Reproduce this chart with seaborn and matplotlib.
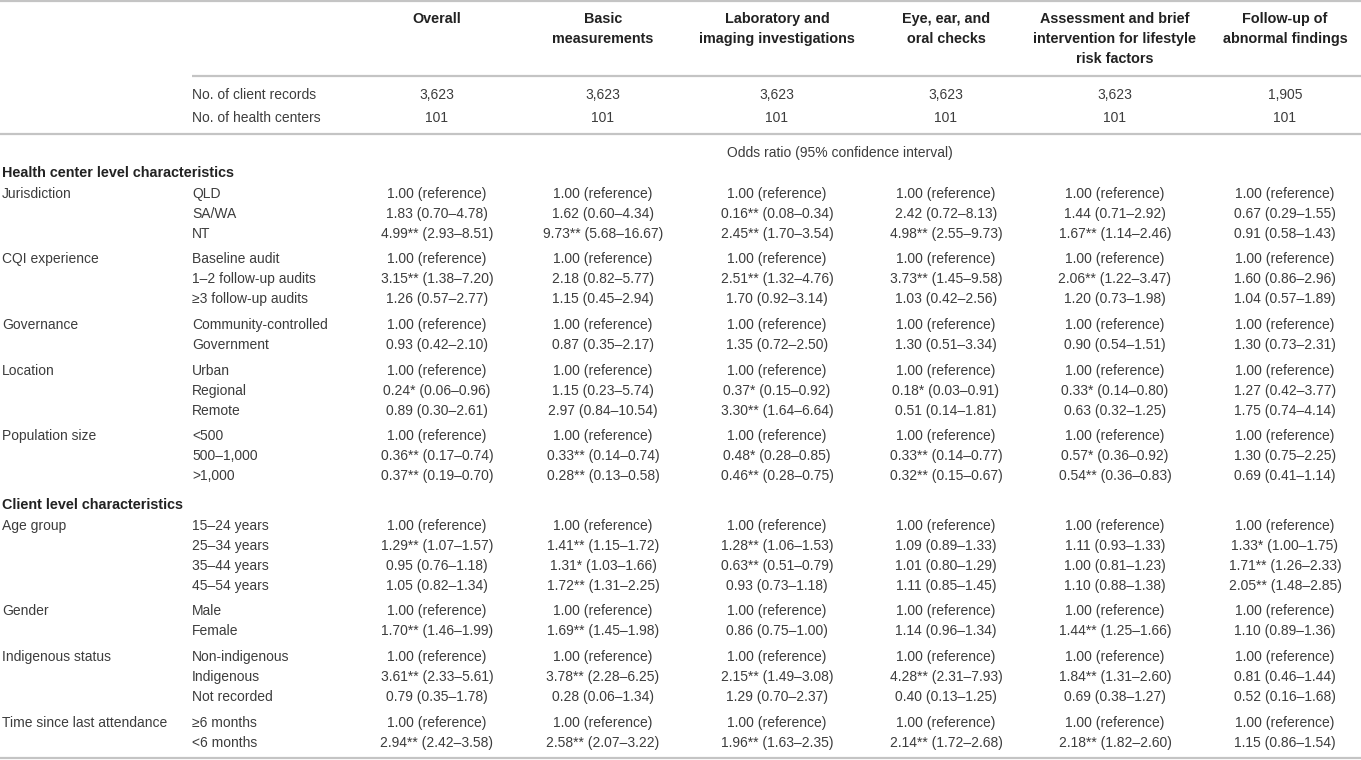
import matplotlib
matplotlib.use("Agg")
import matplotlib.pyplot as plt
import seaborn as sns

sns.set_theme(style="white")
plt.rcParams['font.family'] = ['Liberation Sans', 'DejaVu Sans']

# column headers and counts
col_headers = ["Overall",
               "Basic\nmeasurements",
               "Laboratory and\nimaging investigations",
               "Eye, ear, and\noral checks",
               "Assessment and brief\nintervention for lifestyle\nrisk factors",
               "Follow-up of\nabnormal findings"]
n_records = ["3,623", "3,623", "3,623", "3,623", "3,623", "1,905"]
n_centers = ["101", "101", "101", "101", "101", "101"]

# row structure: (section, [(variable, [levels])])
health_center_vars = [
    ("Jurisdiction", ["QLD", "SA/WA", "NT"]),
    ("CQI experience", ["Baseline audit", "1\u20132 follow-up audits", "\u22653 follow-up audits"]),
    ("Governance", ["Community-controlled", "Government"]),
    ("Location", ["Urban", "Regional", "Remote"]),
    ("Population size", ["<500", "500\u20131,000", ">1,000"]),
]
client_vars = [
    ("Age group", ["15\u201324 years", "25\u201334 years", "35\u201344 years", "45\u201354 years"]),
    ("Gender", ["Male", "Female"]),
    ("Indigenous status", ["Non-indigenous", "Indigenous", "Not recorded"]),
    ("Time since last attendance", ["\u22656 months", "<6 months"]),
]
sections = [("Health center level characteristics", health_center_vars),
            ("Client level characteristics", client_vars)]

R = "1.00 (reference)"
overall = [R, "1.83 (0.70\u20134.78)", "4.99** (2.93\u20138.51)",
           R, "3.15** (1.38\u20137.20)", "1.26 (0.57\u20132.77)",
           R, "0.93 (0.42\u20132.10)",
           R, "0.24* (0.06\u20130.96)", "0.89 (0.30\u20132.61)",
           R, "0.36** (0.17\u20130.74)", "0.37** (0.19\u20130.70)",
           R, "1.29** (1.07\u20131.57)", "0.95 (0.76\u20131.18)", "1.05 (0.82\u20131.34)",
           R, "1.70** (1.46\u20131.99)",
           R, "3.61** (2.33\u20135.61)", "0.79 (0.35\u20131.78)",
           R, "2.94** (2.42\u20133.58)"]
basic = [R, "1.62 (0.60\u20134.34)", "9.73** (5.68\u201316.67)",
         R, "2.18 (0.82\u20135.77)", "1.15 (0.45\u20132.94)",
         R, "0.87 (0.35\u20132.17)",
         R, "1.15 (0.23\u20135.74)", "2.97 (0.84\u201310.54)",
         R, "0.33** (0.14\u20130.74)", "0.28** (0.13\u20130.58)",
         R, "1.41** (1.15\u20131.72)", "1.31* (1.03\u20131.66)", "1.72** (1.31\u20132.25)",
         R, "1.69** (1.45\u20131.98)",
         R, "3.78** (2.28\u20136.25)", "0.28 (0.06\u20131.34)",
         R, "2.58** (2.07\u20133.22)"]
lab = [R, "0.16** (0.08\u20130.34)", "2.45** (1.70\u20133.54)",
       R, "2.51** (1.32\u20134.76)", "1.70 (0.92\u20133.14)",
       R, "1.35 (0.72\u20132.50)",
       R, "0.37* (0.15\u20130.92)", "3.30** (1.64\u20136.64)",
       R, "0.48* (0.28\u20130.85)", "0.46** (0.28\u20130.75)",
       R, "1.28** (1.06\u20131.53)", "0.63** (0.51\u20130.79)", "0.93 (0.73\u20131.18)",
       R, "0.86 (0.75\u20131.00)",
       R, "2.15** (1.49\u20133.08)", "1.29 (0.70\u20132.37)",
       R, "1.96** (1.63\u20132.35)"]
eye = [R, "2.42 (0.72\u20138.13)", "4.98** (2.55\u20139.73)",
       R, "3.73** (1.45\u20139.58)", "1.03 (0.42\u20132.56)",
       R, "1.30 (0.51\u20133.34)",
       R, "0.18* (0.03\u20130.91)", "0.51 (0.14\u20131.81)",
       R, "0.33** (0.14\u20130.77)", "0.32** (0.15\u20130.67)",
       R, "1.09 (0.89\u20131.33)", "1.01 (0.80\u20131.29)", "1.11 (0.85\u20131.45)",
       R, "1.14 (0.96\u20131.34)",
       R, "4.28** (2.31\u20137.93)", "0.40 (0.13\u20131.25)",
       R, "2.14** (1.72\u20132.68)"]
assess = [R, "1.44 (0.71\u20132.92)", "1.67** (1.14\u20132.46)",
          R, "2.06** (1.22\u20133.47)", "1.20 (0.73\u20131.98)",
          R, "0.90 (0.54\u20131.51)",
          R, "0.33* (0.14\u20130.80)", "0.63 (0.32\u20131.25)",
          R, "0.57* (0.36\u20130.92)", "0.54** (0.36\u20130.83)",
          R, "1.11 (0.93\u20131.33)", "1.00 (0.81\u20131.23)", "1.10 (0.88\u20131.38)",
          R, "1.44** (1.25\u20131.66)",
          R, "1.84** (1.31\u20132.60)", "0.69 (0.38\u20131.27)",
          R, "2.18** (1.82\u20132.60)"]
followup = [R, "0.67 (0.29\u20131.55)", "0.91 (0.58\u20131.43)",
            R, "1.60 (0.86\u20132.96)", "1.04 (0.57\u20131.89)",
            R, "1.30 (0.73\u20132.31)",
            R, "1.27 (0.42\u20133.77)", "1.75 (0.74\u20134.14)",
            R, "1.30 (0.75\u20132.25)", "0.69 (0.41\u20131.14)",
            R, "1.33* (1.00\u20131.75)", "1.71** (1.26\u20132.33)", "2.05** (1.48\u20132.85)",
            R, "1.10 (0.89\u20131.36)",
            R, "0.81 (0.46\u20131.44)", "0.52 (0.16\u20131.68)",
            R, "1.15 (0.86\u20131.54)"]
columns = [overall, basic, lab, eye, assess, followup]

# layout
col_x = [437, 603, 777, 946, 1115, 1285]
x_var, x_level = 2, 192
txt = "#3c3c3c"
bold_c = "#222222"
rule_c = "#c4c4c4"
fs, fs_b = 10, 10.4
off, off_b = 5, 5   # centre -> baseline


def cell(x, y, s, ha="center", bold=False):
    yb = round(y) + (off_b if bold else off)
    if bold:
        ax.text(x, yb, s, ha=ha, va="baseline", fontsize=fs_b,
                fontweight="bold", color=bold_c)
    else:
        ax.text(x, yb, s, ha=ha, va="baseline", fontsize=fs, color=txt)


fig = plt.figure(figsize=(13.61, 7.60), dpi=100)
ax = fig.add_axes([0, 0, 1, 1])
ax.set_xlim(0, 1361)
ax.set_ylim(760, 0)
ax.set_axis_off()

# rules
ax.hlines(1, 0, 1361, color=rule_c, lw=1.6)
ax.hlines(76, x_level, 1361, color=rule_c, lw=1.6)
ax.hlines(134, 0, 1361, color=rule_c, lw=1.6)
ax.hlines(758, 0, 1361, color=rule_c, lw=1.6)

# header
for x, h in zip(col_x, col_headers):
    for i, line in enumerate(h.split("\n")):
        cell(x, 18 + 20 * i, line, bold=True)

cell(x_level, 94, "No. of client records", ha="left")
cell(x_level, 117, "No. of health centers", ha="left")
for x, a, b in zip(col_x, n_records, n_centers):
    cell(x, 94, a)
    cell(x, 117, b)

cell(840, 152, "Odds ratio (95% confidence interval)")

# body
y = 172
row = 0
for s_i, (sec, vars_) in enumerate(sections):
    if s_i > 0:
        y += 29
    cell(x_var, y, sec, ha="left", bold=True)
    y += 21
    for v_i, (var, levels) in enumerate(vars_):
        if v_i > 0:
            y += 25.5
        cell(x_var, y, var, ha="left")
        for l_i, lev in enumerate(levels):
            if l_i > 0:
                y += 20
            cell(x_level, y, lev, ha="left")
            for x, col in zip(col_x, columns):
                cell(x, y, col[row])
            row += 1

fig.savefig("out.png", dpi=100)
